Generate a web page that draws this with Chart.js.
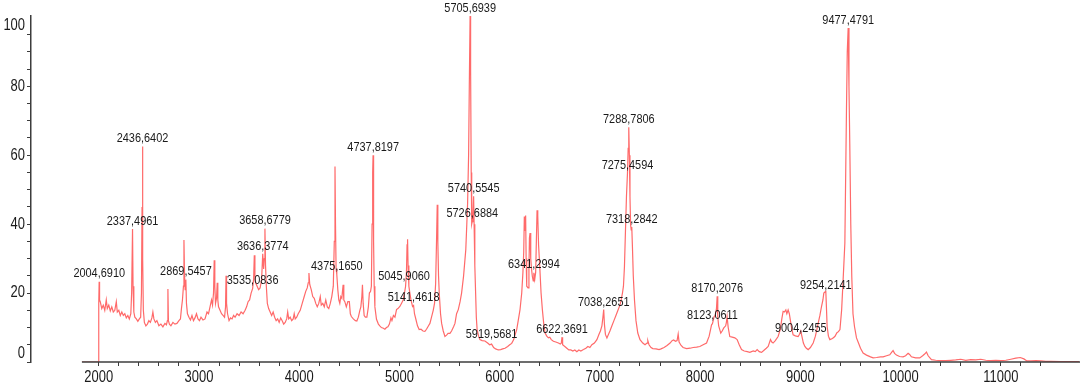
<!DOCTYPE html>
<html>
<head>
<meta charset="utf-8">
<script src="https://cdn.jsdelivr.net/npm/chart.js@4.4.0/dist/chart.umd.min.js"></script>
<style>
  html, body { margin: 0; padding: 0; background: #fff; }
  #wrap { width: 1080px; height: 389px; }
</style>
</head>
<body>
<div id="wrap"><canvas id="chart" width="1080" height="389"></canvas></div>
<script>
const FONT = "'Liberation Sans', Arial, sans-serif";
const TEXT_SCALE = 0.81;
const AXIS_COLOR = "#3c3c3c";
const LINE_COLOR = "#ff6a6a";
const TEXT_COLOR = "#1a1a1a";

const X_TICKS = [2000, 3000, 4000, 5000, 6000, 7000, 8000, 9000, 10000, 11000];
const Y_TICKS = [0, 20, 40, 60, 80, 100];
const X_AXIS_START = 1832;

// m/z values of the trace
const specMz = [
  1832, 1998, 2000, 2004, 2008,  2015, 2030, 2045, 2060, 2075,
  2085, 2100, 2115, 2130, 2145,  2160, 2175, 2185, 2200, 2215,
  2230, 2245, 2260, 2275, 2290,  2305, 2320, 2328, 2337, 2342,
  2350, 2360, 2375, 2390, 2405,  2418, 2426, 2432, 2436, 2440,
  2445, 2455, 2470, 2485, 2500,  2515, 2530, 2540, 2550, 2565,
  2580, 2600, 2620, 2640, 2660,  2675, 2685, 2690, 2695, 2705,
  2720, 2740, 2760, 2780, 2800,  2815, 2825, 2835, 2845, 2850,
  2856, 2862, 2869, 2875, 2885,  2900, 2915, 2930, 2945, 2960,
  2975, 2990,
  3005, 3020, 3040, 3060, 3080,  3095, 3110, 3125, 3135, 3145,
  3152, 3158, 3165, 3175, 3182,  3188, 3195, 3210, 3225, 3240,
  3255, 3265, 3270, 3275, 3285,  3300, 3315, 3330, 3345, 3360,
  3380, 3400, 3420, 3440, 3460,  3475, 3490, 3505, 3520, 3535,
  3545, 3552, 3558, 3565, 3580,  3595, 3610, 3625, 3636, 3645,
  3652, 3658, 3664, 3672, 3682,  3695, 3710, 3725, 3740, 3755,
  3770, 3785, 3800, 3815, 3830,  3845, 3860, 3875, 3885, 3895,
  3910, 3925, 3940, 3950, 3960,  3975, 3990,
  4010, 4030, 4050, 4065, 4080,  4090, 4097, 4105, 4120, 4135,
  4150, 4165, 4180, 4195, 4210,  4220, 4235, 4250, 4265, 4280,
  4295, 4310, 4325, 4340, 4350,  4357, 4362, 4368, 4375, 4385,
  4395, 4405, 4415, 4425, 4438,  4445, 4455, 4470, 4485, 4500,
  4510, 4520, 4540, 4560, 4575,  4590, 4605, 4615, 4625, 4631,
  4638, 4648, 4660, 4675, 4690,  4700, 4712, 4720, 4727, 4733,
  4737, 4742, 4748, 4755, 4771,  4790, 4804, 4820, 4840, 4855,
  4870, 4885, 4900, 4915, 4925,  4940, 4955, 4971, 4985,
  5004, 5020, 5037, 5050, 5061,  5070, 5076, 5081, 5086, 5094,
  5104, 5115, 5131, 5141, 5150,  5164, 5180, 5197, 5215, 5235,
  5254, 5270, 5290, 5304, 5320,  5337, 5350, 5361, 5370, 5377,
  5383, 5390, 5397, 5410, 5421,  5437, 5454, 5470, 5485, 5504,
  5520, 5540, 5554, 5570, 5587,  5605, 5620, 5640, 5662, 5672,
  5680, 5690, 5697, 5705, 5710,  5716, 5721, 5726, 5733, 5740,
  5745, 5752, 5760, 5767, 5775,  5790, 5803, 5825, 5853, 5880,
  5900, 5919, 5940, 5960, 5986,
  6010, 6030, 6053, 6080, 6100,  6120, 6140, 6155, 6170, 6185,
  6203, 6220, 6232, 6240, 6246,  6252, 6259, 6264, 6270, 6283,
  6292, 6297, 6303, 6310, 6318,  6326, 6335, 6341, 6350, 6359,
  6366, 6373, 6380, 6388, 6400,  6413, 6426, 6440, 6453, 6470,
  6486, 6500, 6515, 6536, 6560,  6586, 6605, 6615, 6622, 6628,
  6650, 6670, 6690, 6710, 6730,  6750, 6770, 6790, 6810, 6836,
  6860, 6880, 6900, 6920, 6945,  6970, 6990,
  7005, 7020, 7030, 7038, 7045,  7055, 7070, 7085, 7100, 7120,
  7140, 7160, 7180, 7200, 7212,  7225, 7235, 7245, 7255, 7265,
  7275, 7282, 7288, 7294, 7300,  7306, 7312, 7318, 7325, 7333,
  7345, 7360, 7378, 7400, 7428,  7450, 7470, 7478, 7490, 7510,
  7528, 7560, 7590, 7610, 7640,  7670, 7700, 7720, 7735, 7755,
  7770, 7781, 7790, 7810, 7830,  7865, 7900, 7930, 7965, 7997,
  8030, 8064, 8090, 8114, 8123,  8140, 8150, 8163, 8170, 8176,
  8185, 8206, 8220, 8236, 8255,  8262, 8269, 8280, 8296, 8320,
  8346, 8369, 8390, 8413, 8440,  8470, 8496, 8530, 8550, 8569,
  8590, 8613, 8640, 8660, 8679,  8702, 8715, 8728, 8750, 8778,
  8800, 8815, 8828, 8840, 8855,  8865, 8878, 8890, 8902, 8915,
  8928, 8950, 8978, 8990,
  9004, 9015, 9030, 9045, 9060,  9078, 9100, 9128, 9150, 9165,
  9178, 9195, 9211, 9225, 9234,  9245, 9254, 9260, 9267, 9280,
  9294, 9320, 9344, 9365, 9380,  9395, 9412, 9428, 9444, 9460,
  9468, 9477, 9485, 9493, 9503,  9513, 9525, 9540, 9560, 9580,
  9600, 9626, 9660, 9700, 9726,  9760, 9800, 9826, 9860, 9892,
  9910, 9925, 9940, 9959, 9990,  10025, 10050, 10075, 10090, 10108,
  10150, 10191, 10220, 10240, 10258,  10275, 10308, 10350, 10400, 10450,
  10500, 10550, 10600, 10650, 10700,  10750, 10800, 10850, 10900, 10950,
  11000, 11050, 11100, 11150, 11194,  11230, 11260, 11300, 11350, 11400,
  11450, 11500, 11600, 11700, 11780
];

// relative intensity (%) at each m/z above
const specInt = [
  0, 0, 17, 23.3, 18,  17.5, 15.5, 16.5, 15, 18,
  15.5, 16.5, 14.8, 16, 14.5,  15, 17.5, 14.5, 15, 13.5,
  14.5, 13.5, 14, 12.8, 13.5,  12.5, 14, 20, 38.6, 22,
  14.5, 13, 12.5, 11.8, 12.5,  13, 20, 45, 62.5, 30,
  15, 11.5, 10.5, 11, 12,  11.5, 12.8, 14.5, 12.5, 11.5,
  12, 10.5, 11, 10.2, 11.2,  10.8, 12, 21.2, 12, 11,
  10.5, 11.5, 11, 11.2, 12,  12.5, 15.5, 18, 22, 35.4,
  25, 21, 23.9, 17, 14,  13, 12.2, 13.5, 12, 12.8,
  14, 12.5,
  12, 13, 12.2, 12.5, 14.5,  14, 16, 18, 16.5, 20,
  29.5, 22, 17, 18.5, 23,  18, 16, 15, 14, 13.5,
  13, 16, 25, 17, 14,  12, 12.8, 12.5, 13.5, 13,
  14, 13.5, 14.5, 14, 15,  16, 17.5, 18, 20, 21.3,
  24, 31, 25, 23, 22,  21, 21.5, 24, 31.4, 27,
  30, 38.7, 28, 22, 17,  15.5, 14.5, 13.5, 14.5, 13,
  12, 12.5, 11.5, 12.8, 12,  11, 11.5, 12.5, 14.5, 12.5,
  13, 12, 12.5, 14, 12.5,  13, 14,
  15, 17, 19, 20.5, 21.5,  23, 25.8, 22.5, 21, 19,
  18.5, 17, 16, 17, 19,  16.5, 17, 16, 18, 16,
  15.5, 17, 19, 22, 35,  56.7, 40, 27, 25.4, 21,
  18, 17, 19, 18.5, 22.4,  18, 17.5, 16, 17.5, 17.5,
  14, 13.2, 12.5, 12, 11.9,  13, 15, 16, 19, 22.4,
  17, 13.5, 13, 13, 16,  20, 20.5, 22, 40, 55,
  60, 35, 22, 16, 12.4,  11, 10.5, 10, 9.8, 9.5,
  10, 10.2, 11, 12.8, 12,  13.5, 13, 15.2, 15.5,
  16.1, 17, 18, 20, 21.9,  26, 34, 35.6, 28, 22,
  20, 18, 16.1, 16.4, 14,  12.4, 10.5, 9.4, 9.5, 9,
  8.9, 9.5, 10.5, 11.2, 13,  15, 17, 22.7, 35, 45.6,
  35, 25, 20, 14, 11.2,  9, 7.4, 7.8, 8.3, 8.3,
  9, 10.2, 11.2, 14, 15.2,  17.5, 20, 25, 32.6, 40,
  46, 60, 80, 100.4, 85,  55, 40, 40.7, 43, 48.1,
  40, 28, 20, 13, 9.4,  7.5, 6.5, 6.2, 6.1, 5.5,
  5, 5.2, 4.2, 3.8, 3.5,
  3.6, 3.8, 4, 4.5, 5,  5.4, 6.5, 8, 9.4, 12,
  15.2, 20, 26, 32, 42.2,  38, 42.5, 30, 22, 21.5,
  27, 36, 37.4, 30, 27,  24.8, 23.5, 25.9, 24, 26,
  35, 44, 42.5, 34, 27.6,  20, 15.2, 11, 8.4, 7.5,
  7, 7.2, 6.5, 6, 5.8,  5.5, 5.2, 5.5, 7.2, 5,
  4.5, 4, 3.5, 3.5, 3.2,  3.5, 3, 3.5, 3.2, 3.6,
  4, 4.5, 4.2, 5, 5.5,  6.5, 8,
  9, 10.5, 13, 15.2, 11,  8, 7, 8, 9, 10.5,
  12, 13.5, 15, 16.5, 18,  20, 22, 27.7, 38, 48,
  54.7, 62, 68.1, 60, 48,  40, 38.3, 39.2, 33, 25,
  18, 12, 8.4, 6.5, 5.5,  5, 5.5, 6.2, 5, 4.2,
  3.9, 3.8, 3.6, 3.8, 4.2,  4.8, 5.5, 6.2, 6.4, 6,
  6.2, 8.1, 5.8, 4.8, 4.2,  3.9, 4, 4.2, 4.3, 4.5,
  5, 5.5, 7.5, 10.8, 11.1,  13.2, 13.5, 15.5, 19.1, 13,
  10.5, 8.4, 9, 9.9, 10.5,  11.5, 13.2, 10, 7.4, 7.2,
  7, 6.5, 5, 3.6, 3.2,  3, 2.8, 3.2, 3, 3.6,
  3, 2.8, 3.5, 4, 4.5,  6.5, 5.8, 5.5, 6.2, 7.4,
  9.5, 12.5, 14.7, 14.5, 15.1,  14, 15.1, 14, 11.8, 9.5,
  7.9, 7.6, 7.4, 8,
  9, 7.5, 5.5, 4.5, 4,  3.6, 4.2, 5.5, 7.5, 9.5,
  11.3, 13.5, 16.1, 18, 20,  20.3, 20.5, 16, 10.3, 7.5,
  6.5, 6.8, 7.4, 8.5, 8.8,  9.4, 15.2, 24.7, 34.5, 73,
  90, 96.9, 80, 63.5, 40,  24.8, 14, 10.3, 7, 5.5,
  4, 2.6, 2, 1.5, 1.2,  1.3, 1.5, 1.5, 1.8, 2.1,
  2.8, 3.3, 2.5, 2, 1.6,  1.5, 1.8, 2.5, 2.2, 1.5,
  1.2, 1.2, 1.8, 2.3, 2.9,  1.8, 0.7, 0.5, 0.4, 0.4,
  0.5, 0.6, 0.8, 0.5, 0.7,  0.6, 0.8, 0.5, 0.4, 0.5,
  0.4, 0.5, 0.8, 1.1, 1.3,  0.9, 0.3, 0.3, 0.4, 0.3,
  0.2, 0.2, 0.1, 0.1, 0.1
];

// annotated peaks
const peakLabels = [
  "2004,6910", "2337,4961", "2436,6402", "2869,5457", "3535,0836",
  "3636,3774", "3658,6779", "4375,1650", "4737,8197", "5045,9060",
  "5141,4618", "5705,6939", "5740,5545", "5726,6884", "5919,5681",
  "6341,2994", "6622,3691", "7038,2651", "7288,7806", "7275,4594",
  "7318,2842", "8170,2076", "8123,0611", "9004,2455", "9254,2141",
  "9477,4791"
];
const peakInt = [
  23.3, 38.6, 62.5, 23.9, 21.3,
  31.4, 38.7, 25.4, 60.0, 22.5,
  16.4, 100.4, 48.1, 40.7, 5.8,
  25.9, 7.2, 15.0, 68.1, 54.7,
  39.2, 19.1, 11.1, 7.5, 19.9,
  96.9
];

if (specMz.length !== specInt.length) console.error("length mismatch", specMz.length, specInt.length);

const points = specMz.map((m, i) => ({ x: m, y: specInt[i] }));

function drawText(ctx, txt, x, y, size, align) {
  ctx.save();
  ctx.font = size + "px " + FONT;
  ctx.fillStyle = TEXT_COLOR;
  ctx.textBaseline = "middle";
  ctx.textAlign = align;
  ctx.translate(x, y);
  ctx.scale(TEXT_SCALE, 1);
  ctx.fillText(txt, 0, 0);
  ctx.restore();
}

const axisExtras = {
  id: "axisExtras",
  afterDraw(chart) {
    const { ctx, chartArea, scales } = chart;
    const x = scales.x, y = scales.y;

    ctx.save();
    ctx.strokeStyle = AXIS_COLOR;
    ctx.lineWidth = 1.5;
    ctx.beginPath();
    ctx.moveTo(x.getPixelForValue(X_AXIS_START), chartArea.bottom);
    ctx.lineTo(chartArea.right, chartArea.bottom);
    ctx.stroke();
    ctx.restore();

    X_TICKS.forEach((v) => {
      drawText(ctx, String(v), x.getPixelForValue(v), chartArea.bottom + 16, 16, "center");
    });

    Y_TICKS.forEach((v) => {
      let py = y.getPixelForValue(v);
      if (v === 100) py += 8;
      if (v === 0) py -= 8;
      drawText(ctx, String(v), 25, py, 16, "right");
    });

    peakLabels.forEach((lbl, i) => {
      const mz = parseFloat(lbl.replace(",", "."));
      drawText(ctx, lbl, x.getPixelForValue(mz), y.getPixelForValue(peakInt[i]) - 8, 13.5, "center");
    });
  },
};

new Chart(document.getElementById("chart"), {
  type: "line",
  data: {
    datasets: [{
      data: points,
      borderColor: LINE_COLOR,
      borderWidth: 1.2,
      pointRadius: 0,
      tension: 0,
      fill: false,
    }],
  },
  options: {
    responsive: false,
    animation: false,
    devicePixelRatio: 1,
    layout: { padding: { top: 16, left: 0, right: 0, bottom: 0 } },
    plugins: { legend: { display: false }, tooltip: { enabled: false } },
    scales: {
      x: {
        type: "linear",
        min: 1324,
        max: 11790,
        afterBuildTicks: (s) => { s.ticks = s.ticks.filter((t) => t.value >= 2000 && t.value % 200 === 0); },
        afterFit: (s) => { s.height = 27; },
        ticks: { stepSize: 200, autoSkip: false, display: false },
        grid: { drawOnChartArea: false, drawTicks: true, tickLength: 4, color: AXIS_COLOR },
        border: { display: false },
      },
      y: {
        min: 0,
        max: 100.4,
        afterBuildTicks: (s) => { s.ticks = s.ticks.filter((t) => t.value % 5 === 0); },
        afterFit: (s) => { s.width = 31; },
        ticks: { stepSize: 5, display: false },
        grid: { drawOnChartArea: false, drawTicks: true, tickLength: 4, color: AXIS_COLOR },
        border: { display: true, color: AXIS_COLOR, width: 1.5 },
      },
    },
  },
  plugins: [axisExtras],
});
</script>
</body>
</html>
